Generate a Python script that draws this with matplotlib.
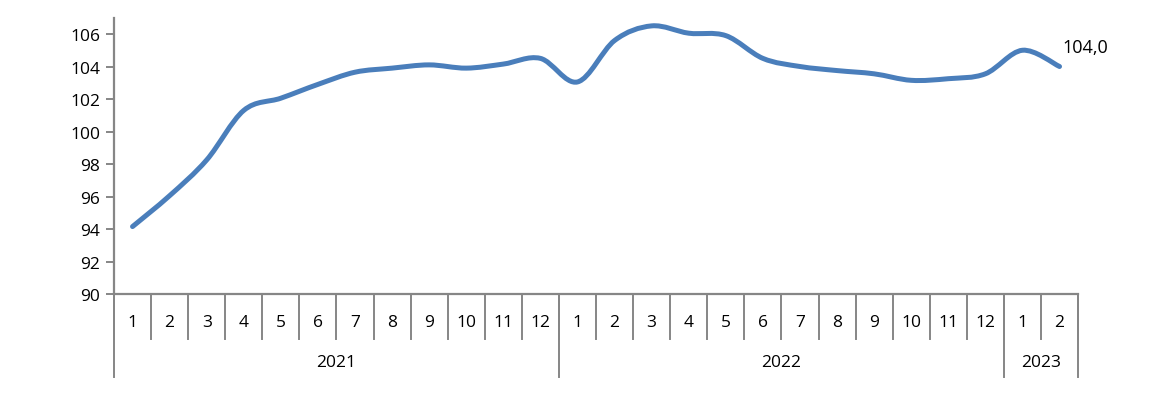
import numpy as np
import matplotlib
matplotlib.use('Agg')
import matplotlib.pyplot as plt
from matplotlib.path import Path
from matplotlib.patches import PathPatch
import matplotlib.transforms as mtransforms

plt.rcParams['font.family'] = ['Open Sans', 'DejaVu Sans']

# Data
months = ['1', '2', '3', '4', '5', '6', '7', '8', '9', '10', '11', '12',
          '1', '2', '3', '4', '5', '6', '7', '8', '9', '10', '11', '12',
          '1', '2']
years = ['2021', '2022', '2023']
year_counts = [12, 12, 2]
values = [94.15, 96.05, 98.25, 101.3, 102.05, 102.9, 103.65, 103.9, 104.1, 103.9, 104.15, 104.5,
          103.05, 105.6, 106.5, 106.05, 105.9, 104.5, 104.0, 103.75, 103.55, 103.15, 103.25, 103.55,
          105.0, 104.0]
last_label = '104,0'

line_color = '#4A7EBB'
axis_color = '#868686'

fig = plt.figure(figsize=(11.68, 4.06), dpi=100)
ax = fig.add_axes([0.0976, 0.2734, 0.8254, 0.6804])

x = np.arange(len(values))
y = np.array(values, dtype=float)

# Excel-style smoothed line: cubic Bezier through points (Catmull-Rom control points)
verts = [(x[0], y[0])]
codes = [Path.MOVETO]
n = len(x)
for i in range(n - 1):
    p0 = np.array([x[max(i - 1, 0)], y[max(i - 1, 0)]])
    p1 = np.array([x[i], y[i]])
    p2 = np.array([x[i + 1], y[i + 1]])
    p3 = np.array([x[min(i + 2, n - 1)], y[min(i + 2, n - 1)]])
    c1 = p1 + (p2 - p0) / 6
    c2 = p2 - (p3 - p1) / 6
    verts += [tuple(c1), tuple(c2), tuple(p2)]
    codes += [Path.CURVE4] * 3
patch = PathPatch(Path(verts, codes), facecolor='none', edgecolor=line_color,
                  lw=3.6, capstyle='round', joinstyle='round', zorder=3)
ax.add_patch(patch)

ax.set_xlim(-0.5, len(values) - 0.5)
ax.set_ylim(90, 107)
ax.set_yticks(np.arange(90, 107, 2))
ax.tick_params(axis='y', colors=axis_color, length=6, width=1.4, labelsize=12.5,
               labelcolor='black', pad=4)

for side in ['top', 'right']:
    ax.spines[side].set_visible(False)
for side in ['left', 'bottom']:
    ax.spines[side].set_color(axis_color)
    ax.spines[side].set_linewidth(1.6)

# category axis: month separators and labels
ax.set_xticks([])
trans = mtransforms.blended_transform_factory(ax.transData, ax.transAxes)
for k in range(len(values) + 1):
    ax.plot([k - 0.5, k - 0.5], [0, -0.163], transform=trans, color=axis_color,
            lw=1.4, clip_on=False)
for k, m in enumerate(months):
    ax.text(k, -0.101, m, transform=trans, ha='center', va='center', fontsize=12.5)

# year groups
start = 0
bounds = [0]
for yr, cnt in zip(years, year_counts):
    ax.text(start + (cnt - 1) / 2, -0.246, yr, transform=trans, ha='center', va='center',
            fontsize=12.5)
    start += cnt
    bounds.append(start)
for b in bounds:
    ax.plot([b - 0.5, b - 0.5], [0, -0.30], transform=trans, color=axis_color,
            lw=1.4, clip_on=False)

ax.annotate(last_label, (x[-1], y[-1]), xytext=(2, 14), textcoords='offset points',
            ha='left', va='center', fontsize=13)

fig.savefig('out.png', dpi=100)
